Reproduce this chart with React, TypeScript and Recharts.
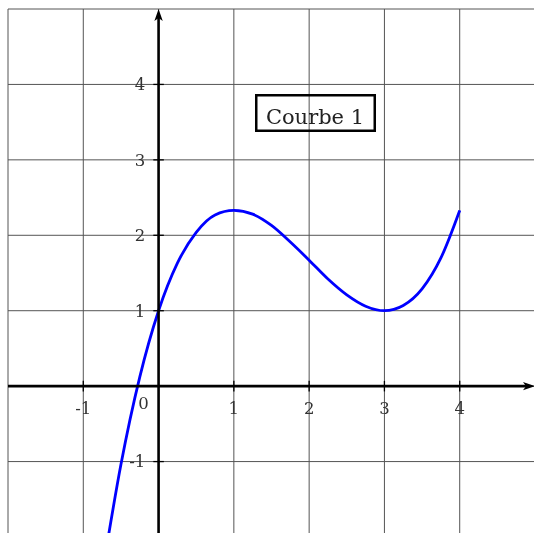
import {
  LineChart,
  Line,
  XAxis,
  YAxis,
  CartesianGrid,
  ReferenceLine,
  ReferenceDot,
  Legend,
} from "recharts";

// courbe tracée (x, f(x))
const curveX = [-0.7, -0.5, -0.25, 0, 0.25, 0.5, 0.75, 1, 1.25, 1.5, 1.75, 2, 2.25, 2.5, 2.75, 3, 3.25, 3.5, 3.75, 4];
const curveY = [-2.19, -1.04, 0.12, 1, 1.63, 2.04, 2.27, 2.33, 2.28, 2.13, 1.91, 1.67, 1.42, 1.21, 1.06, 1, 1.07, 1.29, 1.7, 2.33];

const gridX = [-2, -1, 0, 1, 2, 3, 4, 5];
const gridY = [-2, -1, 0, 1, 2, 3, 4, 5];
const xTicks = [-1, 1, 2, 3, 4];
const yTicks = [-1, 1, 2, 3, 4];
const seriesName = "Courbe 1";

const data = curveX.map((x, i) => ({ x, y: curveY[i] }));

const FONT = "DejaVu Serif";
const TICK = 0.07;

// axe épais terminé par une flèche
const AxisArrow = (props: any) => {
  const { x1, y1, x2, y2 } = props;
  const dx = x2 - x1;
  const dy = y2 - y1;
  const len = Math.hypot(dx, dy) || 1;
  const ux = dx / len;
  const uy = dy / len;
  const px = -uy;
  const py = ux;
  const L = 12;
  const W = 4.2;
  const N = 9;
  const head = `M${x2},${y2} L${x2 - ux * L + px * W},${y2 - uy * L + py * W} L${x2 - ux * N},${y2 - uy * N} L${x2 - ux * L - px * W},${y2 - uy * L - py * W} Z`;
  return (
    <g>
      <line x1={x1} y1={y1} x2={x2 - ux * N} y2={y2 - uy * N} stroke="#000" strokeWidth={2.6} />
      <path d={head} fill="#000" />
    </g>
  );
};

const LegendBox = (props: any) => {
  const name = props.payload?.[0]?.value ?? seriesName;
  return (
    <svg width={121} height={38} style={{ display: "block" }}>
      <rect x={1.25} y={1.25} width={118.5} height={35.5} fill="none" stroke="#000" strokeWidth={2.5} />
      <text x={60} y={30} textAnchor="middle" fontFamily={FONT} fontSize={21} fill="#222">
        {name}
      </text>
    </svg>
  );
};

const tickLabel = { fill: "#333", fontSize: 16.5, fontFamily: FONT };

export default function App() {
  return (
    <div style={{ position: "fixed", left: 0, top: 0, width: 534, height: 533, overflow: "hidden" }}>
      <LineChart
        width={548}
        height={545}
        data={data}
        margin={{ top: 9, right: 13, bottom: 8, left: 8 }}
      >
        <CartesianGrid
          stroke="#555"
          strokeWidth={1}
          horizontalValues={gridY}
          verticalValues={gridX}
        />
        <XAxis dataKey="x" type="number" domain={[-2, 5]} ticks={gridX} allowDataOverflow hide />
        <YAxis type="number" domain={[-2, 5]} ticks={gridY} allowDataOverflow hide />

        <Line
          dataKey="y"
          name={seriesName}
          type="monotone"
          stroke="#0000ff"
          strokeWidth={2.8}
          dot={false}
          isAnimationActive={false}
        />

        <ReferenceLine segment={[{ x: -2, y: 0 }, { x: 5, y: 0 }]} shape={AxisArrow} />
        <ReferenceLine segment={[{ x: 0, y: -2 }, { x: 0, y: 5 }]} shape={AxisArrow} />

        {xTicks.map((v) => (
          <ReferenceLine
            key={`xt${v}`}
            segment={[{ x: v, y: -TICK }, { x: v, y: TICK }]}
            stroke="#000"
            strokeWidth={1.3}
            label={{ value: String(v), position: "bottom", offset: 11, ...tickLabel }}
          />
        ))}
        {yTicks.map((v) => (
          <ReferenceLine
            key={`yt${v}`}
            segment={[{ x: -TICK, y: v }, { x: TICK, y: v }]}
            stroke="#000"
            strokeWidth={1.3}
            label={{ value: String(v), position: "left", offset: 8, ...tickLabel }}
          />
        ))}
        <ReferenceDot
          x={0}
          y={0}
          r={0.01}
          fill="none"
          stroke="none"
          label={(p: any) => (
            <text
              x={p.viewBox.x - 15}
              y={p.viewBox.y + 23}
              textAnchor="middle"
              {...tickLabel}
            >
              0
            </text>
          )}
        />

        <Legend
          layout="vertical"
          align="center"
          verticalAlign="middle"
          content={LegendBox}
          wrapperStyle={{ left: 255, top: 94, width: 121, height: 38 }}
        />
      </LineChart>
    </div>
  );
}
